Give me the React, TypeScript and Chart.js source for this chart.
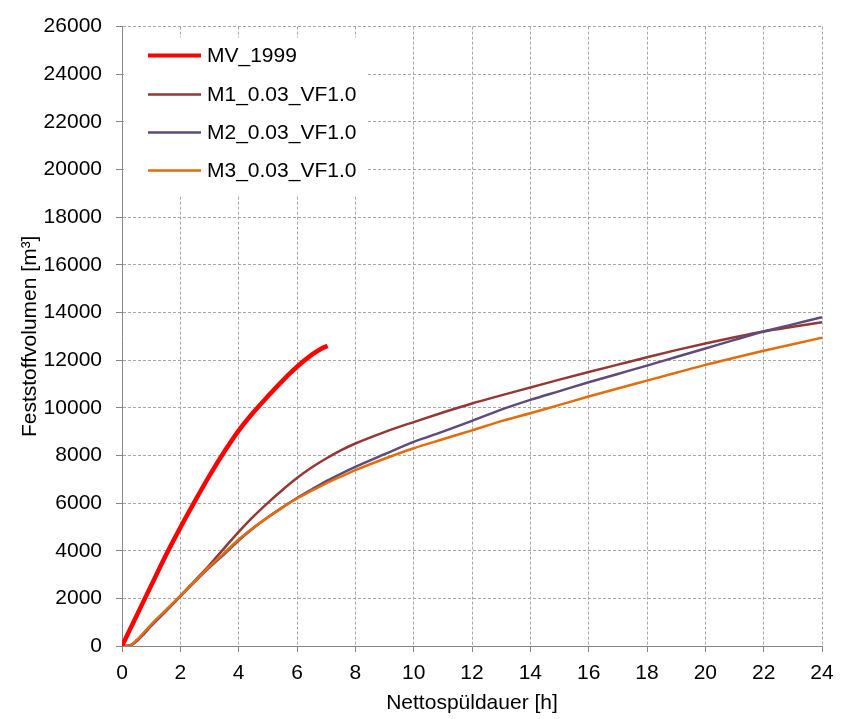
import React, { useEffect, useRef } from "react";
import { Chart, registerables } from "chart.js";

Chart.register(...registerables);

// ---- data ----
const seriesNames = ["MV_1999", "M1_0.03_VF1.0", "M2_0.03_VF1.0", "M3_0.03_VF1.0"];
const seriesColors = ["#FF0000", "#953735", "#604A7B", "#E46C0A"];
const seriesWidths = [4.5, 2.5, 2.5, 2.5];

const mvHours = [0, 0.5, 1, 1.5, 2, 2.5, 3, 3.5, 4, 4.5, 5, 5.5, 6, 6.5, 6.8, 7.05];
const mvVolume = [0, 1270, 2540, 3800, 4970, 6080, 7150, 8140, 9040, 9800, 10480, 11130, 11720, 12220, 12460, 12600];

const modelHours = [0, 0.25, 0.5, 0.75, 1, 1.5, 2, 2.5, 3, 3.5, 4, 4.5, 5, 5.5, 6, 6.5, 7, 7.5, 8, 9, 10, 11, 12, 13, 14, 15, 16, 17, 18, 19, 20, 21, 22, 23, 24];
const m1Volume = [0, 20, 230, 540, 880, 1480, 2100, 2750, 3400, 4100, 4790, 5430, 6010, 6550, 7050, 7490, 7870, 8210, 8500, 8980, 9400, 9800, 10180, 10520, 10850, 11180, 11500, 11810, 12120, 12420, 12700, 12960, 13200, 13400, 13590];
const m2Volume = [0, 10, 200, 500, 840, 1450, 2080, 2700, 3300, 3850, 4430, 4940, 5400, 5820, 6210, 6570, 6920, 7230, 7520, 8050, 8570, 9000, 9450, 9920, 10330, 10700, 11070, 11420, 11770, 12130, 12490, 12850, 13200, 13500, 13800];
const m3Volume = [0, 10, 240, 560, 900, 1500, 2100, 2720, 3340, 3900, 4470, 4960, 5400, 5810, 6190, 6520, 6830, 7110, 7380, 7860, 8300, 8680, 9050, 9440, 9770, 10120, 10470, 10810, 11140, 11470, 11800, 12100, 12390, 12670, 12940];

const xMin = 0, xMax = 24, xStep = 2;
const yMin = 0, yMax = 26000, yStep = 2000;
const xTitle = "Nettospüldauer [h]";
const yTitle = "Feststoffvolumen [m³]";

const FONT = "'Liberation Sans', Arial, sans-serif";
const FS = 21;

const toPoints = (xs: number[], ys: number[]) => xs.map((x, i) => ({ x, y: ys[i] }));

const legendPlugin = {
  id: "insideLegend",
  afterDatasetsDraw(chart: any) {
    const { ctx, chartArea } = chart;
    const bx = chartArea.left + 2;
    const by = chartArea.top + 11;
    ctx.save();
    ctx.fillStyle = "#ffffff";
    ctx.fillRect(bx, by, 244, 157);
    ctx.font = `${FS}px ${FONT}`;
    ctx.textBaseline = "middle";
    ctx.textAlign = "left";
    const rowY = [29, 68, 106, 144];
    seriesNames.forEach((name, i) => {
      const y = chartArea.top + rowY[i];
      ctx.strokeStyle = seriesColors[i];
      ctx.lineWidth = i === 0 ? 4 : 2.5;
      ctx.beginPath();
      ctx.moveTo(chartArea.left + 26, y);
      ctx.lineTo(chartArea.left + 79, y);
      ctx.stroke();
      ctx.fillStyle = "#000";
      ctx.fillText(name, chartArea.left + 85, y + 1);
    });
    ctx.restore();
  },
};

export default function App() {
  const ref = useRef<HTMLCanvasElement>(null);
  useEffect(() => {
    if (!ref.current) return;
    const series = [
      toPoints(mvHours, mvVolume),
      toPoints(modelHours, m1Volume),
      toPoints(modelHours, m2Volume),
      toPoints(modelHours, m3Volume),
    ];
    const orders = [0, 3, 2, 1];
    const chart = new Chart(ref.current, {
      type: "line",
      data: {
        datasets: series.map((d, i) => ({
          label: seriesNames[i],
          data: d,
          borderColor: seriesColors[i],
          backgroundColor: seriesColors[i],
          borderWidth: seriesWidths[i],
          pointRadius: 0,
          fill: false,
          cubicInterpolationMode: "monotone" as const,
          order: orders[i],
        })),
      },
      plugins: [legendPlugin],
      options: {
        animation: false,
        responsive: true,
        maintainAspectRatio: false,
        layout: { padding: { top: 16, right: 30, left: 0, bottom: 0 } },
        plugins: { legend: { display: false }, tooltip: { enabled: false } },
        scales: {
          x: {
            type: "linear",
            min: xMin,
            max: xMax,
            ticks: {
              stepSize: xStep,
              color: "#000",
              font: { family: FONT, size: FS },
              padding: 9,
              maxRotation: 0,
              callback: (v: any) => String(v),
            },
            grid: {
              color: "#a6a6a6",
              lineWidth: 1,
              tickLength: 6,
              tickColor: "#868686",
              tickBorderDash: [],
            },
            border: { display: true, color: "#868686", width: 1, dash: [3, 2] },
            title: {
              display: true,
              text: xTitle,
              color: "#000",
              font: { family: FONT, size: FS },
              padding: { top: 0, bottom: 3 },
            },
            afterFit: (scale: any) => {
              scale.height = 73;
            },
          },
          y: {
            type: "linear",
            min: yMin,
            max: yMax,
            ticks: {
              stepSize: yStep,
              color: "#000",
              font: { family: FONT, size: FS },
              padding: 14,
              callback: (v: any) => String(v),
            },
            grid: {
              color: "#a6a6a6",
              lineWidth: 1,
              tickLength: 6,
              tickColor: "#868686",
              tickBorderDash: [],
            },
            border: { display: true, color: "#868686", width: 1, dash: [3, 2] },
            title: {
              display: true,
              text: yTitle,
              color: "#000",
              font: { family: FONT, size: FS },
              padding: { top: 18, bottom: 0 },
            },
            afterFit: (scale: any) => {
              scale.width = 122;
            },
          },
        },
      },
    });
    return () => chart.destroy();
  }, []);

  return (
    <div style={{ position: "fixed", left: 0, top: 0, width: 852, height: 719, background: "#fff" }}>
      <canvas ref={ref} />
    </div>
  );
}
